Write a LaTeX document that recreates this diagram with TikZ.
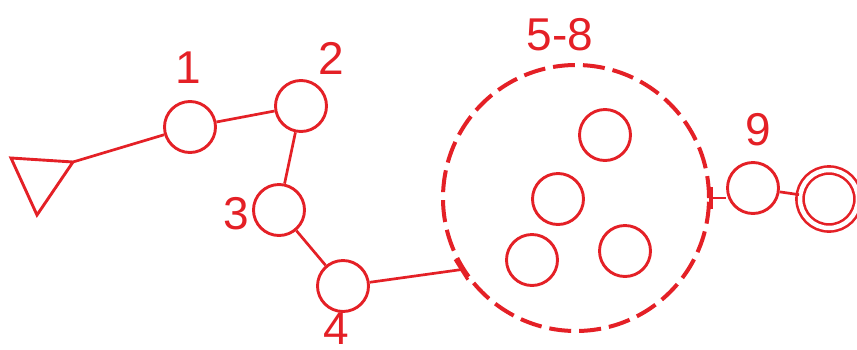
\documentclass[tikz,border=0pt]{standalone}
\usepackage{fontspec}
\setmainfont{Liberation Sans}
\usetikzlibrary{calc}
\definecolor{myred}{RGB}{228,32,38}
\tikzset{
  small/.style={circle,draw=myred,line width=2.9pt,minimum size=51pt,inner sep=0pt},
  conn/.style={draw=myred,line width=2.7pt},
  tick/.style={draw=myred,line width=3.2pt},
  lbl/.style={text=myred,font=\fontsize{46}{46}\selectfont,inner sep=0pt},
}
\begin{document}
\begin{tikzpicture}[x=1pt,y=-1pt]
\useasboundingbox (0,0) rectangle (857,349);
% triangle
\coordinate (t1) at (11,158);
\coordinate (t2) at (73,162);
\coordinate (t3) at (37,215);
\draw[myred,line width=2.9pt,line join=miter] (t1) -- (t2) -- (t3) -- cycle;
% small circles
\node[small] (c1) at (190,127) {};
\node[small] (c2) at (301,106) {};
\node[small] (c3) at (279,210) {};
\node[small] (c4) at (343,286) {};
\node[small] (c9) at (753,188) {};
% big dashed circle
\node[circle,draw=myred,line width=4pt,minimum size=266pt,inner sep=0pt,dash pattern=on 22pt off 8pt] (big) at (576,198) {};
\node[small] (c5) at (605,135) {};
\node[small] (c6) at (558,199) {};
\node[small] (c7) at (532,260) {};
\node[small] (c8) at (625,251) {};
% double circle
\node[circle,draw=myred,line width=2.6pt,minimum size=58pt,inner sep=0pt,double=white,double distance=4.5pt] (c10) at (829,199) {};
% connectors
\draw[conn] (t2) -- (c1);
\draw[conn] (c1) -- (c2);
\draw[conn] (c2) -- (c3);
\draw[conn] (c3) -- (c4);
\draw[conn] (c4) -- (big.212);
\draw[tick] ($(big.212)!12pt!90:(big.center)$) -- ($(big.212)!12pt!-90:(big.center)$);
\draw[conn] (big.east) -- (c9.west |- big.east);
\draw[tick] ($(big.east)!11pt!90:(big.center)$) -- ($(big.east)!11pt!-90:(big.center)$);
\draw[conn] (c9) -- (c10);
% labels
\node[lbl] (l1) at (188,68) {1};
\node[lbl] (l2) at (331,58) {2};
\node[lbl] (l3) at (236,214) {3};
\node[lbl] (l4) at (336,329) {4};
\node[lbl] (l58) at (560,35) {5-8};
\node[lbl] (l9) at (758,130) {9};
\end{tikzpicture}
\end{document}
